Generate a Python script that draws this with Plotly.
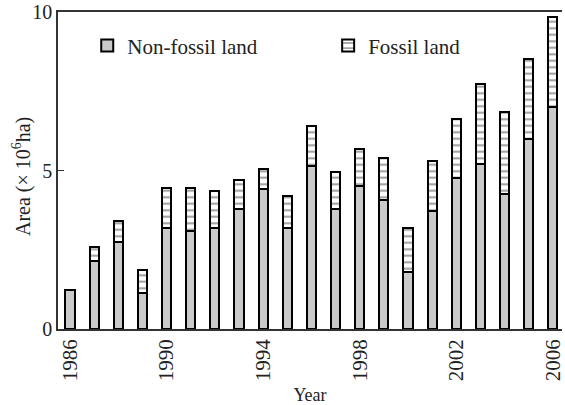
import plotly.graph_objects as go

years = list(range(1986, 2007))
non_fossil = [1.24, 2.13, 2.74, 1.13, 3.18, 3.10, 3.18, 3.78, 4.41, 3.20, 5.14,
              3.78, 4.51, 4.07, 1.81, 3.72, 4.77, 5.21, 4.27, 5.98, 7.01]
total = [1.24, 2.60, 3.40, 1.85, 4.44, 4.44, 4.35, 4.69, 5.04, 4.18, 6.41,
         4.95, 5.67, 5.40, 3.20, 5.31, 6.61, 7.73, 6.84, 8.53, 9.83]
fossil = [round(t - n, 2) for t, n in zip(total, non_fossil)]
tick_years = [1986, 1990, 1994, 1998, 2002, 2006]

FONT = "Liberation Serif"

fig = go.Figure()
fig.add_trace(go.Bar(
    x=years, y=non_fossil, name="Non-fossil land", width=0.38,
    marker=dict(color="#cacaca", line=dict(color="black", width=2)),
    legend="legend", showlegend=True,
))
fig.add_trace(go.Bar(
    x=years, y=fossil, name="Fossil land", width=0.38,
    marker=dict(color="white", line=dict(color="black", width=2),
                pattern=dict(shape="-", fgcolor="#333333", bgcolor="white",
                             size=6.5, solidity=0.3)),
    legend="legend2", showlegend=True,
))

# y-axis title placed as a rotated annotation left of the tick labels
fig.add_annotation(
    text="Area (× 10<sup>6</sup>ha)", textangle=-90,
    xref="paper", yref="paper", x=-0.071, y=0.48,
    xanchor="center", yanchor="middle", showarrow=False,
    font=dict(family=FONT, size=20, color="#222222"),
)

fig.update_layout(
    width=565, height=405,
    margin=dict(l=58, r=0, t=12, b=76),
    barmode="stack",
    showlegend=True,
    plot_bgcolor="white", paper_bgcolor="white",
    font=dict(family=FONT, size=18, color="#222222"),
    legend=dict(x=0.058, y=0.893, xanchor="left", yanchor="middle",
                bgcolor="rgba(0,0,0,0)", font=dict(size=21)),
    legend2=dict(x=0.536, y=0.893, xanchor="left", yanchor="middle",
                 bgcolor="rgba(0,0,0,0)", font=dict(size=21)),
    xaxis=dict(
        range=[1985.5, 2006.38], tickmode="array", tickvals=tick_years,
        ticktext=[str(y) for y in tick_years], tickangle=-90,
        tickfont=dict(size=21), ticklabeloverflow="allow",
        showline=True, linecolor="#333333", linewidth=1.5, mirror=True,
        ticks="", showgrid=False, zeroline=False,
        title=dict(text="Year", standoff=8, font=dict(size=18)),
    ),
    yaxis=dict(
        range=[0, 10], tickvals=[0, 5, 10], tickfont=dict(size=20),
        showline=True, linecolor="#333333", linewidth=1.5,
        ticks="inside", ticklen=6, tickcolor="#333333",
        showgrid=False, zeroline=False,
    ),
)

fig.write_html("out.html")
